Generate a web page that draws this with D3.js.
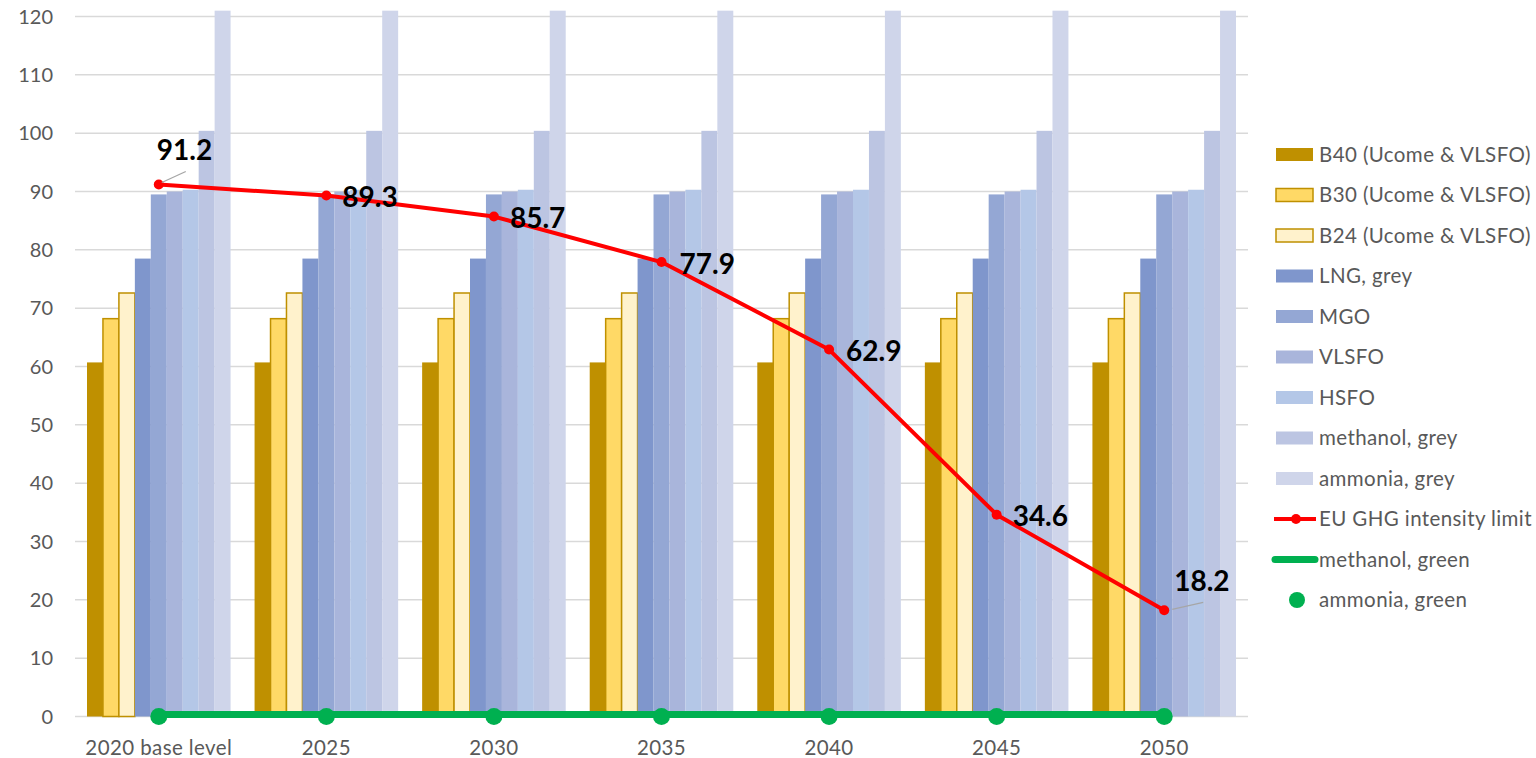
<!DOCTYPE html>
<html>
<head>
<meta charset="utf-8">
<script src="https://cdn.jsdelivr.net/npm/d3@7"></script>
<style>
  body { margin: 0; background: #fff; }
  text { font-family: Lato, "Open Sans", sans-serif; }
</style>
</head>
<body>
<svg id="chart" width="1536" height="758"></svg>
<script>
// ---- data ----
var categories = ["2020 base level", "2025", "2030", "2035", "2040", "2045", "2050"];

var b40 = [60.7, 60.7, 60.7, 60.7, 60.7, 60.7, 60.7];
var b30 = [68.2, 68.2, 68.2, 68.2, 68.2, 68.2, 68.2];
var b24 = [72.6, 72.6, 72.6, 72.6, 72.6, 72.6, 72.6];
var lngGrey = [78.5, 78.5, 78.5, 78.5, 78.5, 78.5, 78.5];
var mgo = [89.5, 89.5, 89.5, 89.5, 89.5, 89.5, 89.5];
var vlsfo = [90.0, 90.0, 90.0, 90.0, 90.0, 90.0, 90.0];
var hsfo = [90.3, 90.3, 90.3, 90.3, 90.3, 90.3, 90.3];
var methanolGrey = [100.4, 100.4, 100.4, 100.4, 100.4, 100.4, 100.4];
var ammoniaGrey = [121, 121, 121, 121, 121, 121, 121];

var euLimit = [91.2, 89.3, 85.7, 77.9, 62.9, 34.6, 18.2];
var methanolGreen = [0, 0, 0, 0, 0, 0, 0];
var ammoniaGreen = [0, 0, 0, 0, 0, 0, 0];

var yTicks = [0, 10, 20, 30, 40, 50, 60, 70, 80, 90, 100, 110, 120];

var barNames = ["B40 (Ucome & VLSFO)", "B30 (Ucome & VLSFO)", "B24 (Ucome & VLSFO)",
    "LNG, grey", "MGO", "VLSFO", "HSFO", "methanol, grey", "ammonia, grey"];
var barData = [b40, b30, b24, lngGrey, mgo, vlsfo, hsfo, methanolGrey, ammoniaGrey];

// ---- styles ----
var barFill = ["#BF9000", "#FFD966", "#FFF2CC", "#7F96CC", "#94A7D4", "#A9B5DB", "#B4C7E7", "#BCC5E2", "#CFD5EA"];
var barStroke = [null, "#BF9000", "#BF9000", null, null, null, null, null, null];
var red = "#FF0000", green = "#00B050", axisText = "#595959";

// label offsets relative to each marker (dx, dy of baseline)
var labelOffsets = [[-2, -25], [16, 11], [16, 11], [18, 12], [17, 11], [16, 11], [10, -19]];
var leaderLines = {0: [[3, -2], [27, -13]], 6: [[8, -1], [39, -8]]};

var svg = d3.select("#chart"),
    margin = {top: 16.5, left: 75},
    width = 1173,
    height = 700;

var g = svg.append("g")
    .attr("transform", "translate(" + margin.left + "," + margin.top + ")");

var x0 = d3.scaleBand().domain(categories).range([0, width]).padding(0);
var x1 = d3.scaleBand().domain(d3.range(barNames.length))
    .range([12, x0.bandwidth() - 12]).padding(0);
var y = d3.scaleLinear().domain([0, 120]).range([height, 0]);

// gridlines
g.selectAll(".grid")
    .data(yTicks)
    .enter().append("line")
    .attr("class", "grid")
    .attr("x1", 0).attr("x2", width)
    .attr("y1", function(d) { return y(d); })
    .attr("y2", function(d) { return y(d); })
    .attr("stroke", "#D9D9D9")
    .attr("stroke-width", 1.5);

// y tick labels
g.selectAll(".ytick")
    .data(yTicks)
    .enter().append("text")
    .attr("class", "ytick")
    .attr("x", -22)
    .attr("y", function(d) { return y(d); })
    .attr("dy", "0.35em")
    .attr("text-anchor", "end")
    .attr("font-size", 20)
    .attr("fill", axisText)
    .text(function(d) { return d; });

// x labels
g.selectAll(".xtick")
    .data(categories)
    .enter().append("text")
    .attr("class", "xtick")
    .attr("x", function(d) { return x0(d) + x0.bandwidth() / 2; })
    .attr("y", height + 38)
    .attr("text-anchor", "middle")
    .attr("font-size", 20.5)
    .attr("letter-spacing", 0.4)
    .attr("fill", axisText)
    .text(function(d) { return d; });

// bars
var groups = g.selectAll(".group")
    .data(categories)
    .enter().append("g")
    .attr("class", "group")
    .attr("transform", function(d) { return "translate(" + x0(d) + ",0)"; });

groups.selectAll("rect")
    .data(function(d, i) {
        return barData.map(function(s, k) { return {k: k, v: s[i]}; });
    })
    .enter().append("rect")
    .attr("x", function(d) { return x1(d.k); })
    .attr("width", x1.bandwidth())
    .attr("y", function(d) { return y(d.v); })
    .attr("height", function(d) { return y(0) - y(d.v); })
    .attr("fill", function(d) { return barFill[d.k]; })
    .attr("stroke", function(d) { return barStroke[d.k] || "none"; })
    .attr("stroke-width", 1.5);

function cx(i) { return x0(categories[i]) + x0.bandwidth() / 2; }

// methanol, green line
var line = d3.line()
    .x(function(d, i) { return cx(i); })
    .y(function(d) { return y(d); });

g.append("path")
    .datum(methanolGreen)
    .attr("d", line)
    .attr("transform", "translate(0,-2)")
    .attr("fill", "none")
    .attr("stroke", green)
    .attr("stroke-width", 7)
    .attr("stroke-linecap", "round");

// ammonia, green dots
g.selectAll(".gdot")
    .data(ammoniaGreen)
    .enter().append("circle")
    .attr("class", "gdot")
    .attr("cx", function(d, i) { return cx(i); })
    .attr("cy", function(d) { return y(d); })
    .attr("r", 8.5)
    .attr("fill", green);

// EU limit line
g.append("path")
    .datum(euLimit)
    .attr("d", line)
    .attr("fill", "none")
    .attr("stroke", red)
    .attr("stroke-width", 4)
    .attr("stroke-linejoin", "round");

g.selectAll(".rdot")
    .data(euLimit)
    .enter().append("circle")
    .attr("class", "rdot")
    .attr("cx", function(d, i) { return cx(i); })
    .attr("cy", function(d) { return y(d); })
    .attr("r", 5)
    .attr("fill", red);

// leader lines
Object.keys(leaderLines).forEach(function(k) {
    var i = +k, p = leaderLines[k];
    g.append("line")
        .attr("x1", cx(i) + p[0][0]).attr("y1", y(euLimit[i]) + p[0][1])
        .attr("x2", cx(i) + p[1][0]).attr("y2", y(euLimit[i]) + p[1][1])
        .attr("stroke", "#A6A6A6")
        .attr("stroke-width", 1.3);
});

// value labels
g.selectAll(".vlabel")
    .data(euLimit)
    .enter().append("text")
    .attr("class", "vlabel")
    .attr("x", function(d, i) { return cx(i) + labelOffsets[i][0]; })
    .attr("y", function(d, i) { return y(d) + labelOffsets[i][1]; })
    .attr("font-size", 28)
    .attr("font-weight", "bold")
    .attr("fill", "#000")
    .text(function(d) { return d.toFixed(1); });

// legend
var legendItems = barNames.map(function(n, k) { return {name: n, type: "bar", k: k}; })
    .concat([
        {name: "EU GHG intensity limit", type: "redline"},
        {name: "methanol, green", type: "greenline"},
        {name: "ammonia, green", type: "greendot"}
    ]);

var legend = svg.append("g").attr("transform", "translate(1276,154.5)");
var li = legend.selectAll(".li")
    .data(legendItems)
    .enter().append("g")
    .attr("class", "li")
    .attr("transform", function(d, i) { return "translate(0," + (i * 40.5) + ")"; });

li.each(function(d) {
    var s = d3.select(this);
    if (d.type === "bar") {
        s.append("rect")
            .attr("x", 0).attr("y", -6.5)
            .attr("width", 37).attr("height", 13)
            .attr("fill", barFill[d.k])
            .attr("stroke", barStroke[d.k] || "none")
            .attr("stroke-width", 1.5);
    } else if (d.type === "redline") {
        s.append("line").attr("x1", -2).attr("x2", 40).attr("y1", 0).attr("y2", 0)
            .attr("stroke", red).attr("stroke-width", 4);
        s.append("circle").attr("cx", 20).attr("cy", 0).attr("r", 5).attr("fill", red);
    } else if (d.type === "greenline") {
        s.append("line").attr("x1", -1).attr("x2", 39).attr("y1", 0).attr("y2", 0)
            .attr("stroke", green).attr("stroke-width", 7).attr("stroke-linecap", "round");
    } else {
        s.append("circle").attr("cx", 21).attr("cy", 0).attr("r", 8).attr("fill", green);
    }
});

li.append("text")
    .attr("x", 43)
    .attr("dy", "0.35em")
    .attr("font-size", 20.5)
    .attr("letter-spacing", 0.4)
    .attr("fill", axisText)
    .text(function(d) { return d.name; });
</script>
</body>
</html>
